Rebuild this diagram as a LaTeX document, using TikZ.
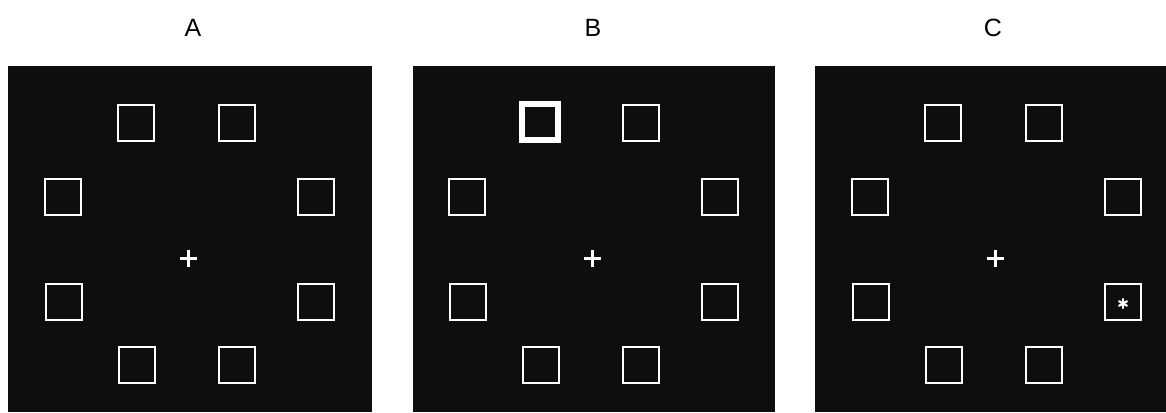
\documentclass[tikz,border=0pt]{standalone}
\usepackage{fontspec}
\setmainfont{Liberation Sans}
\usetikzlibrary{calc}
\definecolor{bg}{RGB}{14,14,14}
\begin{document}
\begin{tikzpicture}[x=1pt,y=-1pt,
  panel/.style={fill=bg,draw=none},
  box/.style={draw=white,line width=2pt,minimum size=36pt,inner sep=0pt,fill=none},
  thickbox/.style={draw=white,line width=6pt,minimum size=36pt,inner sep=0pt,fill=none},
  paneltitle/.style={font=\fontsize{25}{30}\selectfont,inner sep=0pt},
  fixmark/.style={draw=white,line width=3pt},
  starmark/.style={draw=white,line width=2.2pt,line cap=round}]
\useasboundingbox (0,0) rectangle (1166,412);
% panels
\fill[panel] (8,66) rectangle (372,412);
\fill[panel] (413,66) rectangle (775,412);
\fill[panel] (815,66) rectangle (1166,412);
% titles
\node[paneltitle] (tA) at (193,28) {A};
\node[paneltitle] (tB) at (593,28) {B};
\node[paneltitle] (tC) at (993,28) {C};
% panel contents
\foreach \p/\dx in {A/0,B/404,C/807}{
  \begin{scope}[xshift=\dx pt]
    \draw[fixmark] (179.5,258) -- (196.5,258) (188,249.5) -- (188,266.5);
    \node[box] (\p1) at (237,123) {};
    \node[box] (\p2) at (316,197) {};
    \node[box] (\p4) at (237,365) {};
    \node[box] (\p5) at (137,365) {};
    \node[box] (\p6) at (64,302) {};
    \node[box] (\p7) at (63,197) {};
  \end{scope}
}
% top-left squares
\node[box] (A0) at (136,123) {};
\node[thickbox] (B0) at (540,122) {};
\node[box] (C0) at (943,123) {};
% lower-right squares
\node[box] (A3) at (316,302) {};
\node[box] (B3) at (720,302) {};
\node[box] (C3) at (1123,302) {};
% asterisk target in C
\coordinate (star) at (1123,303.5);
\foreach \a in {30,90,150}{
  \draw[starmark] ($(star)+(\a:4.5)$) -- ($(star)+(\a+180:4.5)$);
}
\end{tikzpicture}
\end{document}
